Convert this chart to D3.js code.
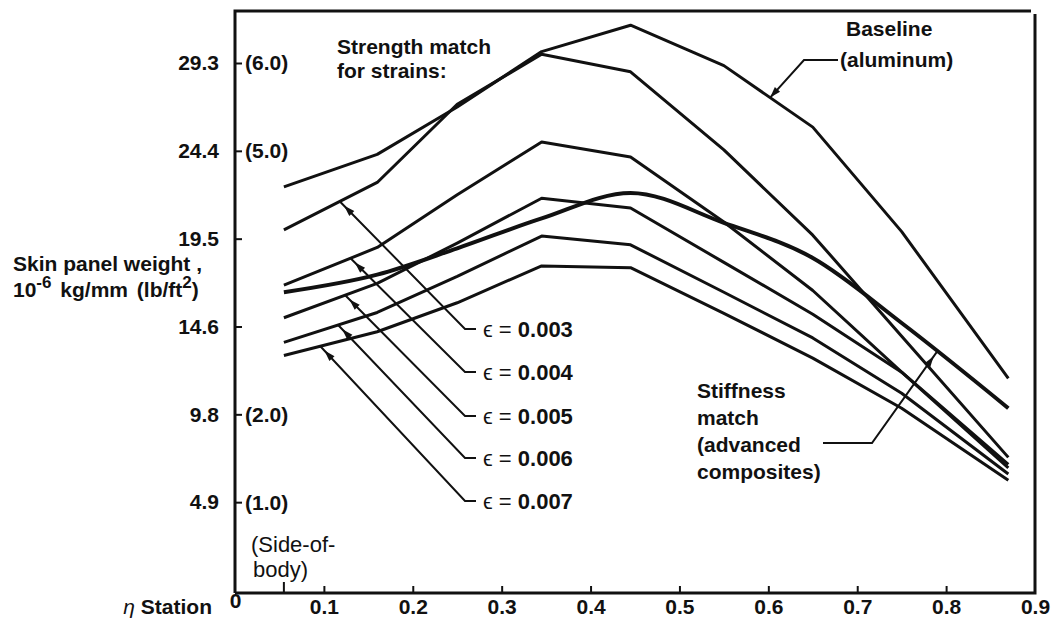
<!DOCTYPE html>
<html>
<head>
<meta charset="utf-8">
<script src="https://cdn.jsdelivr.net/npm/d3@7"></script>
<style>
  html, body { margin: 0; padding: 0; background: #fff; }
  svg { display: block; font-family: "Liberation Sans", Arial, sans-serif; }
  .lbl { font-weight: bold; font-size: 21px; fill: #111; }
  .eps { font-weight: bold; font-size: 22px; fill: #111; }
  .tick text { font-family: "Liberation Sans", Arial, sans-serif; font-weight: bold; font-size: 21px; fill: #111; }
</style>
</head>
<body>
<script>
// eta stations read along the x axis
var stations = [0.055, 0.16, 0.25, 0.345, 0.445, 0.55, 0.65, 0.75, 0.87];

// skin panel weight, lb/ft^2
var baseline  = [4.59, 4.96, 5.50, 6.13, 6.43, 5.97, 5.27, 4.08, 2.41];
var stiffness = [3.39, 3.59, 3.89, 4.23, 4.52, 4.18, 3.78, 3.04, 2.07];
var strain003 = [4.10, 4.64, 5.53, 6.10, 5.90, 5.01, 4.04, 2.89, 1.51];
var strain004 = [3.47, 3.90, 4.50, 5.10, 4.93, 4.19, 3.41, 2.48, 1.43];
var strain005 = [3.10, 3.49, 3.95, 4.46, 4.35, 3.73, 3.14, 2.48, 1.39];
var strain006 = [2.82, 3.16, 3.57, 4.03, 3.93, 3.39, 2.87, 2.24, 1.32];
var strain007 = [2.67, 2.94, 3.27, 3.69, 3.67, 3.15, 2.64, 2.07, 1.25];

var strainSeries = [strain003, strain004, strain005, strain006, strain007];
var strainLabels = ["0.003", "0.004", "0.005", "0.006", "0.007"];
// where each leader touches its curve (eta)
var strainArrowAt = [0.118, 0.130, 0.124, 0.116, 0.096];

var xTicks = [0, 0.1, 0.2, 0.3, 0.4, 0.5, 0.6, 0.7, 0.8, 0.9];
var yTicks = [1, 2, 3, 4, 5, 6];
var kgLabels = ["4.9", "9.8", "14.6", "19.5", "24.4", "29.3"];
var lbLabels = ["(1.0)", "(2.0)", "", "", "(5.0)", "(6.0)"];

var width = 1058, height = 626;

var x = d3.scaleLinear().domain([0, 0.9]).range([235, 1035]);
var y = d3.scaleLinear().domain([0, 6]).range([590, 63]);

var svg = d3.select("body").append("svg")
    .attr("width", width)
    .attr("height", height);

// frame
svg.append("path")
    .attr("d", "M" + x(0) + ",593V11H1031M1035,14V593H" + x(0))
    .attr("fill", "none")
    .attr("stroke", "#111")
    .attr("stroke-width", 3);

// x axis
var xAxis = svg.append("g")
    .attr("transform", "translate(0,593)")
    .call(d3.axisBottom(x).tickValues(xTicks).tickSize(-7).tickPadding(6)
        .tickFormat(function(d) { return d === 0 ? "0" : d3.format(".1f")(d); }));
xAxis.select(".domain").remove();
xAxis.selectAll(".tick line").attr("stroke", "#111").attr("stroke-width", 2)
    .attr("display", function(d) { return (d === 0 || d === 0.9) ? "none" : null; });
xAxis.selectAll(".tick text").filter(function(d) { return d === 0; }).attr("dy", "0.45em");

// side-of-body station mark
svg.append("line")
    .attr("x1", x(stations[0])).attr("x2", x(stations[0]))
    .attr("y1", 593).attr("y2", 582)
    .attr("stroke", "#111").attr("stroke-width", 2);

// y axis
var yAxis = svg.append("g")
    .attr("transform", "translate(" + x(0) + ",0)")
    .call(d3.axisLeft(y).tickValues(yTicks).tickSize(-7).tickPadding(16)
        .tickFormat(function(d, i) { return kgLabels[i]; }));
yAxis.select(".domain").remove();
yAxis.selectAll(".tick line").attr("stroke", "#111").attr("stroke-width", 2);

svg.append("g").selectAll("text")
    .data(yTicks)
    .enter().append("text")
    .attr("class", "lbl")
    .attr("x", x(0) + 10)
    .attr("y", function(d) { return y(d); })
    .attr("dy", "0.35em")
    .text(function(d, i) { return lbLabels[i]; });

// axis titles
svg.append("text").attr("class", "lbl")
    .attr("x", 13).attr("y", 271).text("Skin panel weight ,");
var yt2 = svg.append("text").attr("class", "lbl")
    .attr("x", 13).attr("y", 297).style("word-spacing", "3px");
yt2.append("tspan").text("10");
yt2.append("tspan").attr("dy", -9).style("font-size", "17px").text("-6");
yt2.append("tspan").attr("dy", 9).text(" kg/mm (lb/ft");
yt2.append("tspan").attr("dy", -9).style("font-size", "17px").text("2");
yt2.append("tspan").attr("dy", 9).text(")");

var xtitle = svg.append("text").attr("class", "lbl")
    .attr("x", 212).attr("y", 614).attr("text-anchor", "end");
xtitle.append("tspan").style("font-style", "italic").style("font-weight", "normal").text("\u03B7");
xtitle.append("tspan").text(" Station");

svg.append("text").attr("class", "lbl").style("font-weight", "normal").style("font-size", "22px")
    .attr("x", 251).attr("y", 552).text("(Side-of-");
svg.append("text").attr("class", "lbl").style("font-weight", "normal").style("font-size", "22px")
    .attr("x", 253).attr("y", 577).text("body)");

// curves
var line = d3.line()
    .x(function(d, i) { return x(stations[i]); })
    .y(function(d) { return y(d); });

var smooth = d3.line()
    .x(function(d, i) { return x(stations[i]); })
    .y(function(d) { return y(d); })
    .curve(d3.curveMonotoneX);

svg.append("g").selectAll("path")
    .data([baseline].concat(strainSeries))
    .enter().append("path")
    .attr("d", line)
    .attr("fill", "none")
    .attr("stroke", "#111")
    .attr("stroke-width", 3)
    .attr("stroke-linejoin", "round");

svg.append("path")
    .attr("d", smooth(stiffness))
    .attr("fill", "none")
    .attr("stroke", "#111")
    .attr("stroke-width", 4);

function valueAt(series, eta) {
    var i = d3.bisectRight(stations, eta) - 1;
    i = Math.max(0, Math.min(stations.length - 2, i));
    var t = (eta - stations[i]) / (stations[i + 1] - stations[i]);
    return series[i] + t * (series[i + 1] - series[i]);
}

function arrowHead(g, tx, ty, fx, fy, back) {
    var a = Math.atan2(ty - fy, tx - fx);
    var px = tx - back * Math.cos(a), py = ty - back * Math.sin(a);
    var len = 11, w = 3.5;
    var bx = px - len * Math.cos(a), by = py - len * Math.sin(a);
    g.append("path")
        .attr("d", "M" + px + "," + py +
            "L" + (bx + w * Math.sin(a)) + "," + (by - w * Math.cos(a)) +
            "L" + (bx - w * Math.sin(a)) + "," + (by + w * Math.cos(a)) + "Z")
        .attr("fill", "#111");
}

// strain labels with leaders
var labelRows = [329, 372, 416, 458, 501];
var ann = svg.append("g");
strainSeries.forEach(function(s, i) {
    var tx = x(strainArrowAt[i]), ty = y(valueAt(s, strainArrowAt[i]));
    var cx = 465, cy = labelRows[i];
    ann.append("path")
        .attr("d", "M" + tx + "," + ty + "L" + cx + "," + cy + "H" + (cx + 11))
        .attr("fill", "none").attr("stroke", "#111").attr("stroke-width", 2);
    arrowHead(ann, tx, ty, cx, cy, 6);
    var t = ann.append("text").attr("class", "eps")
        .attr("x", cx + 18).attr("y", cy).attr("dy", "0.35em");
    t.append("tspan").style("font-weight", "normal").text("\u03F5 = ");
    t.append("tspan").text(strainLabels[i]);
});

svg.append("text").attr("class", "lbl").attr("x", 337).attr("y", 54).text("Strength match");
svg.append("text").attr("class", "lbl").attr("x", 337).attr("y", 78).text("for strains:");

// baseline callout
var bEta = 0.602;
var bx = x(bEta), by = y(valueAt(baseline, bEta));
ann.append("path")
    .attr("d", "M" + bx + "," + by + "L804,60H838")
    .attr("fill", "none").attr("stroke", "#111").attr("stroke-width", 2);
arrowHead(ann, bx, by, 804, 60, 0);
svg.append("text").attr("class", "lbl").attr("x", 846).attr("y", 36).text("Baseline");
svg.append("text").attr("class", "lbl").attr("x", 840).attr("y", 60).attr("dy", "0.35em").text("(aluminum)");

// stiffness callout
var sEta = 0.79;
var sx = x(sEta), sy = y(valueAt(stiffness, sEta));
ann.append("path")
    .attr("d", "M" + sx + "," + sy + "L872,443H823")
    .attr("fill", "none").attr("stroke", "#111").attr("stroke-width", 2);
arrowHead(ann, sx, sy, 872, 443, 6);
var stiffText = ["Stiffness", "match", "(advanced", "composites)"];
svg.append("g").selectAll("text")
    .data(stiffText)
    .enter().append("text")
    .attr("class", "lbl")
    .attr("x", 697)
    .attr("y", function(d, i) { return 398 + i * 27; })
    .text(function(d) { return d; });
</script>
</body>
</html>
